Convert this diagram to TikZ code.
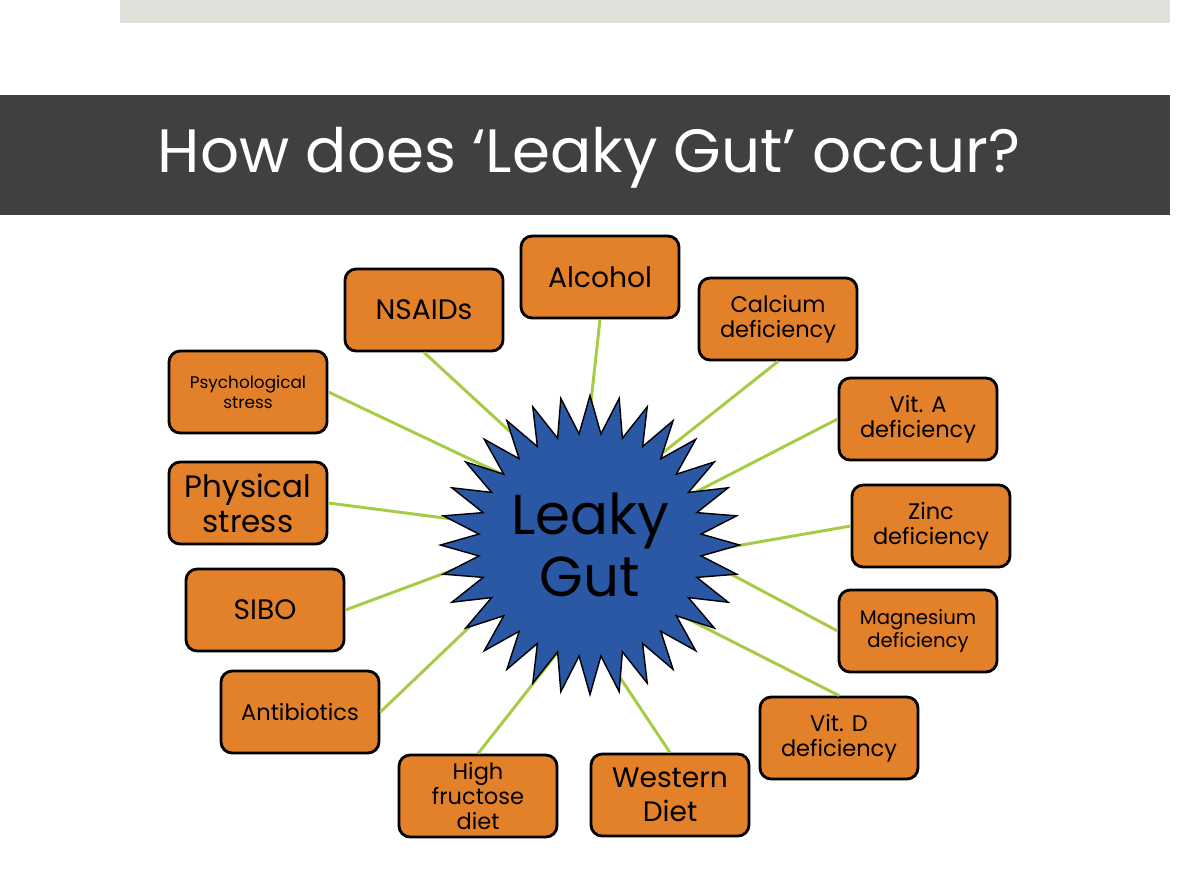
\documentclass[tikz,border=0pt]{standalone}
\usepackage{fontspec}
\setmainfont{Poppins}
\usetikzlibrary{shapes.geometric}
\definecolor{causeorange}{HTML}{E3802A}
\definecolor{linkgreen}{HTML}{A6CB45}
\definecolor{gutblue}{HTML}{2A58A4}
\definecolor{titlegray}{HTML}{404040}
\definecolor{bargray}{HTML}{E0E1DA}
\begin{document}
\begin{tikzpicture}[x=0.025cm,y=-0.025cm,
                    cause/.style={draw, line width=2pt, rounded corners=0.28cm, fill=causeorange,
                                  minimum width=3.95cm, minimum height=2.05cm, align=center,
                                  inner sep=2pt, font=\fontsize{16}{18}\selectfont},
                    link/.style={draw=linkgreen, line width=2.1pt},
                    burst/.style={star, star points=32, star point ratio=1.34, draw, line width=1pt,
                                  fill=gutblue, minimum size=7.3cm, inner sep=0pt, align=center,
                                  font=\fontsize{40}{44}\selectfont}
                    ]
                    \fill[white] (0,0) rectangle (1200,869);
                    \fill[bargray] (120,0) rectangle (1170,23);
                    \fill[titlegray] (0,95) rectangle (1170,215);
                    \node[text=white, font=\fontsize{43.5}{46}\selectfont] (title) at (589,158) {How does ‘Leaky Gut’ occur?};

                    \node[cause, font=\fontsize{20}{22}\selectfont] (alcohol) at (600,277) {Alcohol};
                    \node[cause, font=\fontsize{20}{22}\selectfont] (nsaids) at (424,310) {NSAIDs};
                    \node[cause] (calcium) at (778,319) {Calcium\\deficiency};
                    \node[cause, font=\fontsize{12}{14}\selectfont] (psych) at (248,392) {Psychological\\stress};
                    \node[cause] (vita) at (918,419) {Vit. A\\deficiency};
                    \node[cause, font=\fontsize{22}{25}\selectfont] (physical) at (248,503) {Physical\\stress};
                    \node[cause] (zinc) at (931,526) {Zinc\\deficiency};
                    \node[cause, font=\fontsize{20}{22}\selectfont] (sibo) at (265,610) {SIBO};
                    \node[cause, font=\fontsize{14}{17}\selectfont] (magnesium) at (918,631) {Magnesium\\deficiency};
                    \node[cause] (antibiotics) at (300,712) {Antibiotics};
                    \node[cause] (vitd) at (839,738) {Vit. D\\deficiency};
                    \node[cause] (fructose) at (478,796) {High\\fructose\\diet};
                    \node[cause, font=\fontsize{20}{24}\selectfont] (western) at (670,795) {Western\\Diet};

                    % ends of the spokes, hidden under the star
                    \foreach \n/\x/\y in {alcohol/589/420, nsaids/530/450, calcium/655/459, psych/510/478,
                                          vita/690/495, physical/460/520, zinc/730/547, sibo/480/560,
                                          magnesium/725/571, antibiotics/485/612, vitd/680/615,
                                          fructose/565/643, western/615/670}{
                        \coordinate (\n-end) at (\x,\y);
                    }
                    \foreach \n/\a in {alcohol/south, nsaids/south, calcium/south, psych/east, vita/west,
                                       physical/east, zinc/west, sibo/east, magnesium/west,
                                       antibiotics/east, vitd/north, fructose/north, western/north}{
                        \draw[link] (\n.\a) -- (\n-end);
                    }

                    \node[burst] (gut) at (590,545) {Leaky\\Gut};
                \end{tikzpicture}
\end{document}
